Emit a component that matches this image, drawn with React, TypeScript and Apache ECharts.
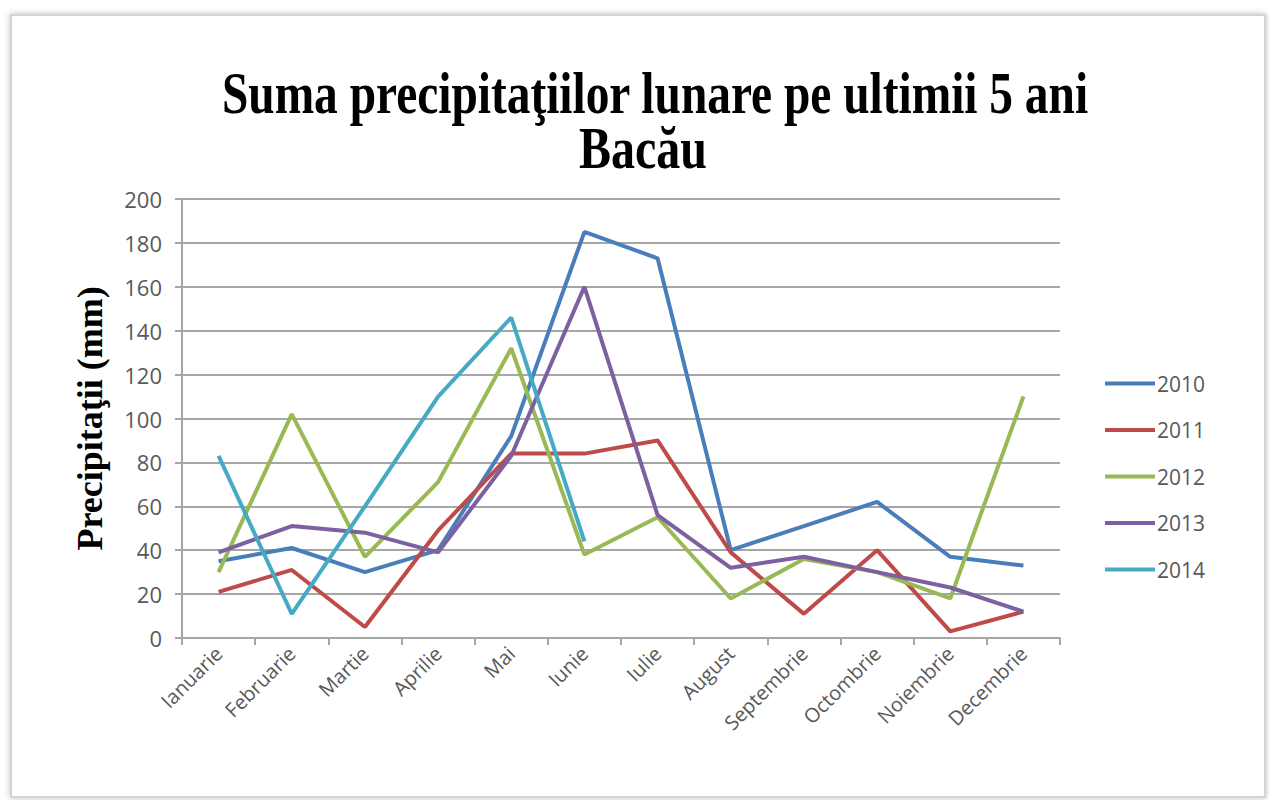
import React, { useEffect, useRef } from "react";
import * as echarts from "echarts";

const months = ["Ianuarie", "Februarie", "Martie", "Aprilie", "Mai", "Iunie", "Iulie", "August", "Septembrie", "Octombrie", "Noiembrie", "Decembrie"];
const years = ["2010", "2011", "2012", "2013", "2014"];
const s2010 = [35, 41, 30, 40, 92, 185, 173, 40, 51, 62, 37, 33];
const s2011 = [21, 31, 5, 49, 84, 84, 90, 39, 11, 40, 3, 12];
const s2012 = [30, 102, 37, 71, 132, 38, 55, 18, 36, 30, 18, 110];
const s2013 = [39, 51, 48, 39, 83, 160, 56, 32, 37, 30, 23, 12];
const s2014 = [83, 11, 60, 110, 146, 44, null, null, null, null, null, null];
const colors = ["#4A7EBB", "#BE4B48", "#98B954", "#7D60A0", "#46AAC5"];
const titleLine1 = "Suma precipitaţiilor lunare pe ultimii 5 ani";
const titleLine2 = "Bacău";
const yName = "Precipitaţii (mm)";

export default function App() {
  const ref = useRef<HTMLDivElement>(null);
  useEffect(() => {
    if (!ref.current) return;
    const chart = echarts.init(ref.current, null, { renderer: "svg" });
    const data = [s2010, s2011, s2012, s2013, s2014];
    const labelFont = "'Open Sans', 'Noto Sans', sans-serif";
    const titleStyle = {
      x: 0,
      y: 0,
      textAlign: "center",
      textVerticalAlign: "top",
      fontFamily: "'Liberation Serif', serif",
      fontWeight: "bold",
      fontSize: 60,
      fill: "#000000",
    };
    chart.setOption({
      animation: false,
      backgroundColor: "#ffffff",
      graphic: [
        {
          type: "rect",
          shape: { x: 11, y: 15, width: 1254, height: 782 },
          style: { fill: "#ffffff", stroke: "#d4d4d4", lineWidth: 2, shadowBlur: 6, shadowColor: "rgba(0,0,0,0.25)" },
          z: -10,
        },
        {
          type: "text",
          x: 655,
          y: 63,
          scaleX: 0.79,
          style: { ...titleStyle, text: titleLine1 },
        },
        {
          type: "text",
          x: 643,
          y: 118,
          scaleX: 0.8,
          style: { ...titleStyle, text: titleLine2 },
        },
      ],
      grid: { left: 182, right: 209, top: 199, bottom: 162, containLabel: false },
      legend: {
        orient: "vertical",
        left: 1100,
        top: 368,
        itemGap: 25.5,
        itemWidth: 50,
        itemHeight: 4,
        icon: "rect",
        data: years,
        textStyle: { fontFamily: labelFont, fontSize: 21, color: "#595959", padding: [0, 0, 0, -3] },
      },
      xAxis: {
        type: "category",
        data: months,
        boundaryGap: true,
        axisLine: { lineStyle: { color: "#a6a6a6", width: 2 } },
        axisTick: { show: true, length: 7, lineStyle: { color: "#a6a6a6", width: 2 } },
        axisLabel: {
          rotate: 45,
          margin: 12,
          interval: 0,
          fontFamily: labelFont,
          fontSize: 20,
          color: "#595959",
        },
      },
      yAxis: {
        type: "value",
        min: 0,
        max: 200,
        interval: 20,
        name: yName,
        nameLocation: "middle",
        nameRotate: 90,
        nameGap: 74,
        nameTextStyle: { fontFamily: "'Liberation Serif', serif", fontWeight: "bold", fontSize: 36, color: "#000000" },
        axisLine: { show: true, lineStyle: { color: "#a6a6a6", width: 2 } },
        axisTick: { show: true, length: 7, lineStyle: { color: "#a6a6a6", width: 2 } },
        axisLabel: { margin: 20, fontFamily: labelFont, fontSize: 22, color: "#595959" },
        splitLine: { lineStyle: { color: "#a6a6a6", width: 2 } },
      },
      series: years.map((y, i) => ({
        name: y,
        type: "line",
        data: data[i],
        showSymbol: false,
        symbol: "none",
        connectNulls: false,
        lineStyle: { color: colors[i], width: 4 },
        itemStyle: { color: colors[i] },
      })),
    });
    return () => chart.dispose();
  }, []);
  return <div ref={ref} style={{ width: 1269, height: 800, position: "absolute", left: 0, top: 0 }} />;
}
